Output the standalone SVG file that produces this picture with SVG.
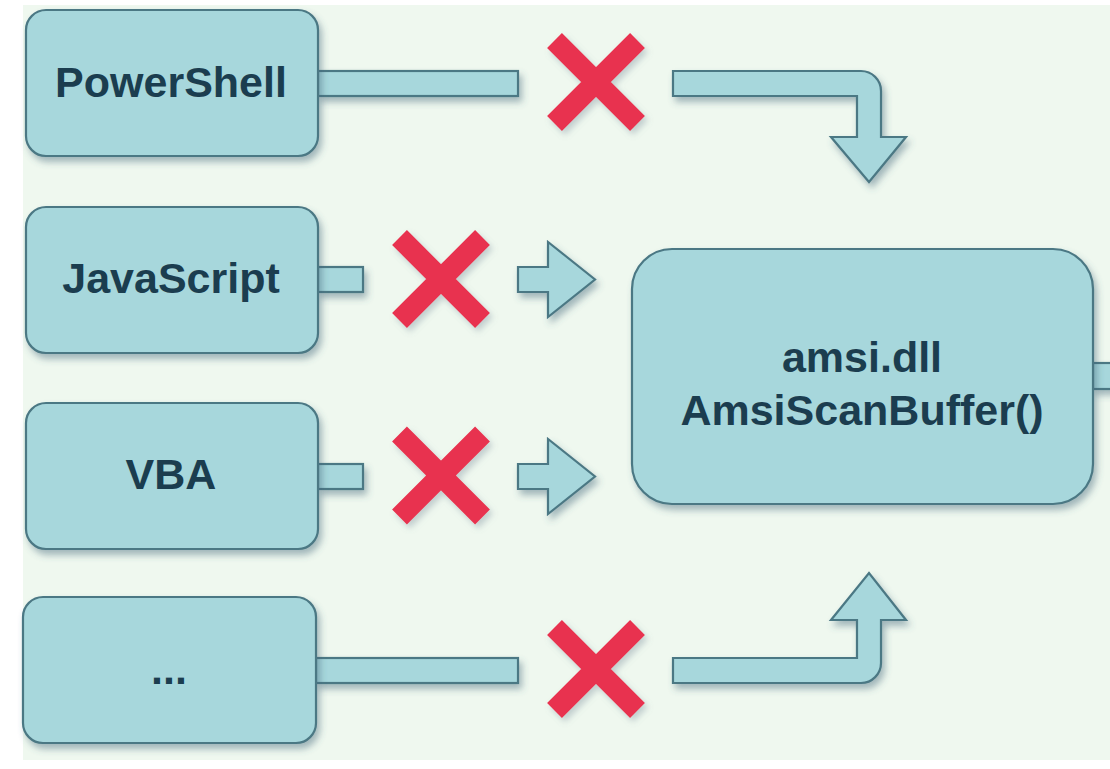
<svg xmlns="http://www.w3.org/2000/svg" width="1110" height="769" viewBox="0 0 1110 769">
<defs>
<filter id="sh" x="-20%" y="-20%" width="150%" height="160%">
<feDropShadow dx="3" dy="5" stdDeviation="3.5" flood-color="#3f6678" flood-opacity="0.45"/>
</filter>
<filter id="shx" x="-20%" y="-20%" width="150%" height="150%">
<feDropShadow dx="3" dy="4" stdDeviation="3" flood-color="#6a8090" flood-opacity="0.35"/>
</filter>
<style>
.box{fill:#a7d7dc;stroke:#4b7884;stroke-width:2.2;filter:url(#sh)}
.conn{fill:#a7d7dc;stroke:#4b7884;stroke-width:2.2;stroke-linejoin:miter}
.lbl{font-family:"Liberation Sans",Arial,sans-serif;font-weight:bold;font-size:43px;fill:#1b3d4f;text-anchor:middle}
.x{stroke:#e8334f;stroke-width:21;stroke-linecap:butt;fill:none}
</style>
</defs>
<rect x="0" y="0" width="1110" height="769" fill="#ffffff"/>
<rect x="23" y="5" width="1087" height="755" fill="#eff8ef"/>

<g id="connectors">
<g filter="url(#sh)">
<rect class="conn" x="318" y="71" width="200" height="25"/>
<path class="conn" d="M673,71 H861 A20,20 0 0 1 881,91 V137 H906 L869,182 L831,137 H857 V96 H673 Z"/>
<rect class="conn" x="318" y="267" width="45" height="25"/>
<path class="conn" d="M518,267 H548 V242 L595,279.5 L548,317 V292 H518 Z"/>
<rect class="conn" x="318" y="464" width="45" height="25"/>
<path class="conn" d="M518,464 H548 V439 L595,476.5 L548,514 V489 H518 Z"/>
<rect class="conn" x="316" y="658" width="202" height="25"/>
<path class="conn" d="M673,683 H861 A20,20 0 0 0 881,663 V620 H906 L869,573 L831,620 H857 V658 H673 Z"/>
<rect class="conn" x="1093" y="363" width="20" height="26"/>
</g>
<g filter="url(#shx)">
<path class="x" d="M554.5,40.5 L637.5,123.5 M637.5,40.5 L554.5,123.5"/>
<path class="x" d="M399.5,237.5 L482.5,320.5 M482.5,237.5 L399.5,320.5"/>
<path class="x" d="M399.5,434 L482.5,517 M482.5,434 L399.5,517"/>
<path class="x" d="M554.5,627.5 L637.5,710.5 M637.5,627.5 L554.5,710.5"/>
</g>
</g>

<g id="powershell">
<rect class="box" x="26" y="10" width="292" height="146" rx="20"/>
<text class="lbl" x="171" y="97">PowerShell</text>
</g>
<g id="javascript">
<rect class="box" x="26" y="207" width="292" height="146" rx="20"/>
<text class="lbl" x="171" y="293">JavaScript</text>
</g>
<g id="vba">
<rect class="box" x="26" y="403" width="292" height="146" rx="20"/>
<text class="lbl" x="171" y="489">VBA</text>
</g>
<g id="other">
<rect class="box" x="23" y="597" width="293" height="146" rx="20"/>
<text class="lbl" x="169" y="684">...</text>
</g>
<g id="amsi">
<rect class="box" x="632" y="249" width="461" height="255" rx="40"/>
<text class="lbl" x="862" y="372">amsi.dll</text>
<text class="lbl" x="862" y="425">AmsiScanBuffer()</text>
</g>
</svg>
